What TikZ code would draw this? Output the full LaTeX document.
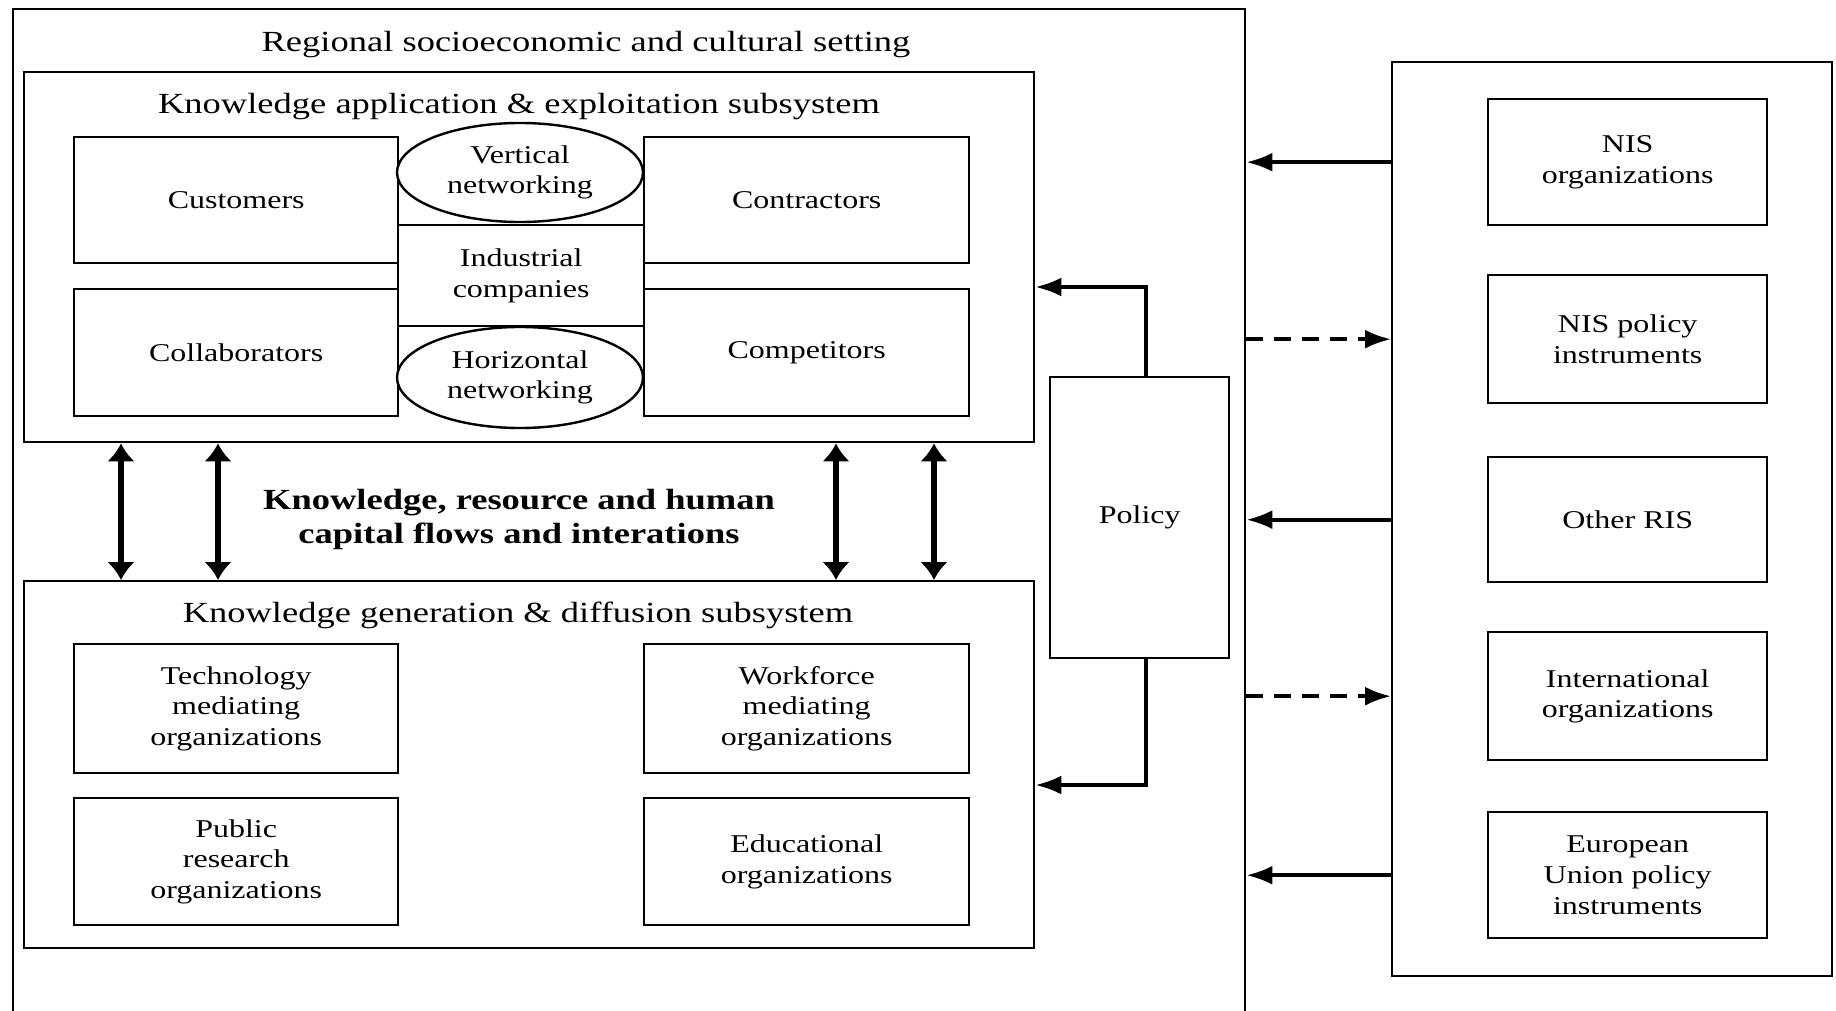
\documentclass[tikz,border=0pt]{standalone}
\usepackage{fontspec}
\setmainfont{Liberation Serif}[FakeStretch=1.25]
\usetikzlibrary{arrows.meta,shapes.geometric}

\tikzset{
  box/.style={draw, line width=1.2pt, rectangle, inner sep=0pt, align=center,
    anchor=north west, font=\fontsize{12.8}{15.3}\selectfont},
  net/.style={draw, line width=1.2pt, ellipse, fill=white, inner sep=0pt, align=center,
    font=\fontsize{12.8}{15.3}\selectfont},
  head/.style={align=center, font=\fontsize{14.6}{17}\selectfont},
  flow/.style={line width=3pt, {Latex[length=9pt,width=14pt]}-{Latex[length=9pt,width=14pt]}},
  link/.style={line width=1.8pt, -{Latex[length=13pt,width=9.5pt]}},
  dlink/.style={link, dash pattern=on 8.5pt off 5.5pt}
}

\begin{document}
\begin{tikzpicture}[x=0.5pt, y=-0.5pt]

\useasboundingbox (0,0) rectangle (1836,1011);
\clip (0,0) rectangle (1836,1011);

% regional setting
\node [box, minimum width=616pt, minimum height=530pt] (regional) at (12,8) {};
\node [head] (regionaltitle) at (586,45) {Regional socioeconomic and cultural setting};

% application & exploitation
\node [box, minimum width=505pt, minimum height=185pt] (app) at (23,71) {};
\node [head] (apptitle) at (519,107) {Knowledge application \& exploitation subsystem};

\node [box, minimum width=162pt, minimum height=63pt] (customers) at (73,136) {Customers};
\node [box, minimum width=162.5pt, minimum height=63pt] (contractors) at (643,136) {Contractors};
\node [box, minimum width=162pt, minimum height=63.5pt] (collaborators) at (73,288) {Collaborators};
\node [box, minimum width=162.5pt, minimum height=63.5pt] (competitors) at (643,288) {Competitors};
\node [box, minimum width=123pt, minimum height=50.5pt] (industrial) at (397,224) {Industrial\\companies};

\node [net, minimum width=123pt, minimum height=49.5pt] (vertical) at (520,172.5) {Vertical\\networking};
\node [net, minimum width=123pt, minimum height=50.5pt] (horizontal) at (520,377.5) {Horizontal\\networking};

% generation & diffusion
\node [box, minimum width=505pt, minimum height=183.5pt] (gen) at (23,580) {};
\node [head] (gentitle) at (518,615) {Knowledge generation \& diffusion subsystem};

\node [box, minimum width=162pt, minimum height=64.5pt] (technology) at (73,643) {Technology\\mediating\\organizations};
\node [box, minimum width=162.5pt, minimum height=64.5pt] (workforce) at (643,643) {Workforce\\mediating\\organizations};
\node [box, minimum width=162pt, minimum height=63.5pt] (public) at (73,797) {Public\\research\\organizations};
\node [box, minimum width=162.5pt, minimum height=63.5pt] (educational) at (643,797) {Educational\\organizations};

% flows between the subsystems
\node [head, font=\bfseries\fontsize{14.6}{17}\selectfont] (flowlabel) at (519,519)
  {Knowledge, resource and human\\capital flows and interations};

\foreach \x [count=\i] in {121,218,836,934} {
  \coordinate (f\i) at (\x,0);
  \draw [flow] (app.south -| f\i) -- (gen.north -| f\i);
}

% policy
\node [box, minimum width=89.5pt, minimum height=140.5pt] (policy) at (1049,376) {Policy};

\coordinate (pup) at (1146,287);
\coordinate (pdown) at (1146,785);
\draw [link] (policy.north -| pup) -- (pup) -- (app.east |- pup);
\draw [link] (policy.south -| pdown) -- (pdown) -- (gen.east |- pdown);

% external environment
\node [box, minimum width=220pt, minimum height=457pt] (ext) at (1391,61) {};

\node [box, minimum width=139.5pt, minimum height=63pt] (nisorg) at (1487,98) {NIS\\organizations};
\node [box, minimum width=139.5pt, minimum height=64pt] (nispol) at (1487,274) {NIS policy\\instruments};
\node [box, minimum width=139.5pt, minimum height=62.5pt] (otherris) at (1487,456) {Other RIS};
\node [box, minimum width=139.5pt, minimum height=64pt] (intorg) at (1487,631) {International\\organizations};
\node [box, minimum width=139.5pt, minimum height=63pt] (eupol) at (1487,811) {European\\Union policy\\instruments};

\draw [link] (ext.west |- nisorg) -- (regional.east |- nisorg);
\draw [dlink] (regional.east |- nispol) -- (ext.west |- nispol);
\draw [link] (ext.west |- otherris) -- (regional.east |- otherris);
\draw [dlink] (regional.east |- intorg) -- (ext.west |- intorg);
\draw [link] (ext.west |- eupol) -- (regional.east |- eupol);

\end{tikzpicture}
\end{document}
